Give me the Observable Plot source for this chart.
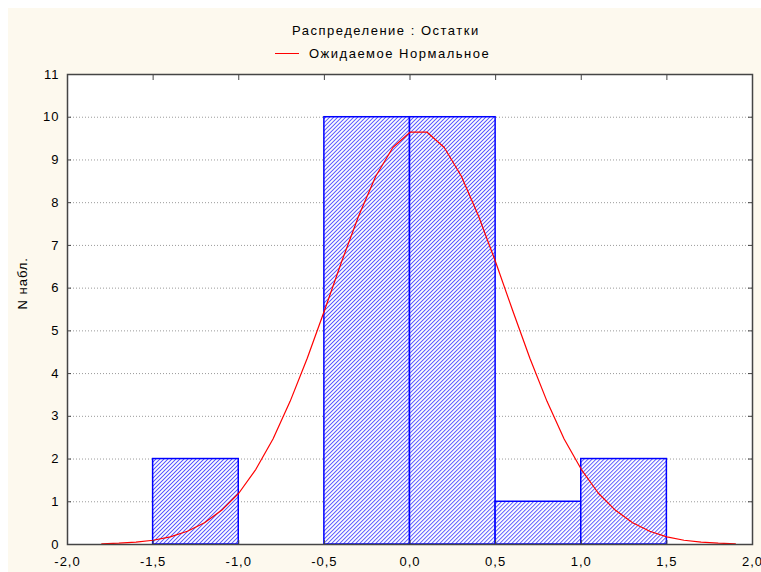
<!DOCTYPE html>
<html>
<head>
<meta charset="utf-8">
<script src="https://cdn.jsdelivr.net/npm/d3@7"></script>
<script src="https://cdn.jsdelivr.net/npm/@observablehq/plot@0.6"></script>
<style>
  html, body { margin: 0; padding: 0; background: #ffffff; }
  #page { position: relative; width: 761px; height: 572px; overflow: hidden; }
  #cream { position: absolute; left: 8px; top: 8px; width: 753px; height: 564px; background: #fdf9ee; }
  .t { position: absolute; font-family: "Liberation Sans", Arial, sans-serif; font-size: 13px; color: #000; white-space: nowrap; letter-spacing: 1.5px; line-height: 15px; }
  #legline { position: absolute; left: 275px; top: 53px; width: 24px; height: 1px; background: #ff0000; }
  #chart { position: absolute; left: 0; top: 62px; }
</style>
</head>
<body>
<div id="page">
  <div id="cream"></div>
  <div class="t" id="title" style="left:292px;top:23px;">Распределение : Остатки</div>
  <div id="legline"></div>
  <div class="t" id="legend" style="left:309px;top:46px;">Ожидаемое Нормальное</div>
  <div id="chart"></div>
</div>
<script>
// Histogram bins (lower edge, upper edge) and observed counts
const binStart = [-1.5, -0.5, 0.0, 0.5, 1.0];
const binEnd   = [-1.0,  0.0, 0.5, 1.0, 1.5];
const counts   = [2, 10, 10, 1, 2];

// Expected normal curve
const curveX = [-1.8,-1.7,-1.6,-1.5,-1.4,-1.3,-1.2,-1.1,-1.0,-0.9,-0.8,-0.7,-0.6,-0.5,-0.4,-0.3,-0.2,-0.1,0.0,0.1,0.2,0.3,0.4,0.5,0.6,0.7,0.8,0.9,1.0,1.1,1.2,1.3,1.4,1.5,1.6,1.7,1.8,1.9];
const curveY = [0.015,0.03,0.056,0.10,0.18,0.31,0.51,0.80,1.20,1.76,2.47,3.35,4.36,5.47,6.61,7.69,8.62,9.29,9.65,9.65,9.29,8.62,7.69,6.61,5.47,4.36,3.35,2.47,1.76,1.20,0.80,0.51,0.31,0.18,0.10,0.056,0.03,0.015];

// Axis ticks
const xTicks = [-2.0,-1.5,-1.0,-0.5,0.0,0.5,1.0,1.5,2.0];
const yTicks = [0,1,2,3,4,5,6,7,8,9,10,11];
const gridTicks = [1,2,3,4,5,6,7,8,9,10];

const bars = binStart.map((s, i) => ({x1: s, x2: binEnd[i], y: counts[i]}));
const curve = curveX.map((x, i) => ({x, y: curveY[i]}));
const fmtX = d => d.toFixed(1).replace(".", ",");
const axisColor = "#454545";
const blank = () => "";

const plot = Plot.plot({
  width: 761,
  height: 510,
  marginTop: 12,
  marginBottom: 28,
  marginLeft: 67,
  marginRight: 9,
  style: {fontFamily: "'Liberation Sans', Arial, sans-serif", fontSize: "13px", letterSpacing: "1px", background: "transparent", color: "#000", overflow: "visible"},
  x: {domain: [-2, 2]},
  y: {domain: [0, 11]},
  marks: [
    Plot.frame({fill: "white", stroke: "none"}),
    Plot.gridY(gridTicks, {stroke: "#9a9a9a", strokeOpacity: 1, strokeDasharray: "1,2"}),
    Plot.rectY(bars, {x1: "x1", x2: "x2", y: "y", fill: "url(#hatch)", stroke: "#0000ff", strokeWidth: 1.5}),
    Plot.line(curve, {x: "x", y: "y", stroke: "#ff0000", strokeWidth: 1.2}),
    // tick labels
    Plot.axisX({ticks: xTicks, tickFormat: fmtX, tickSize: 0, tickPadding: 12, label: null}),
    Plot.axisY({ticks: yTicks, tickFormat: d => String(d), tickSize: 0, tickPadding: 8, label: null}),
    // inward ticks on all four sides
    Plot.axisX({ticks: xTicks, tickSize: 4, dy: -4, tickFormat: blank, stroke: axisColor, label: null}),
    Plot.axisX({anchor: "top", ticks: xTicks, tickSize: 5, dy: 5, tickFormat: blank, stroke: axisColor, label: null}),
    Plot.axisY({ticks: yTicks, tickSize: 4, dx: 4, tickFormat: blank, stroke: axisColor, label: null}),
    Plot.axisY({anchor: "right", ticks: yTicks, tickSize: 5, dx: -5, tickFormat: blank, stroke: axisColor, label: null}),
    Plot.text(["N набл."], {frameAnchor: "left", rotate: -90, dx: -45, fill: "#000"}),
    Plot.frame({stroke: axisColor, strokeWidth: 1.5})
  ]
});

const ns = "http://www.w3.org/2000/svg";
const defs = document.createElementNS(ns, "defs");
defs.innerHTML = '<pattern id="hatch" patternUnits="userSpaceOnUse" width="2.83" height="6" patternTransform="rotate(45)">' +
  '<rect width="2.83" height="6" fill="#ffffff"/>' +
  '<line x1="0.5" y1="0" x2="0.5" y2="6" stroke="#4a4aff" stroke-width="0.9"/>' +
  '</pattern>';
plot.insertBefore(defs, plot.firstChild);
document.getElementById("chart").appendChild(plot);
</script>
</body>
</html>
